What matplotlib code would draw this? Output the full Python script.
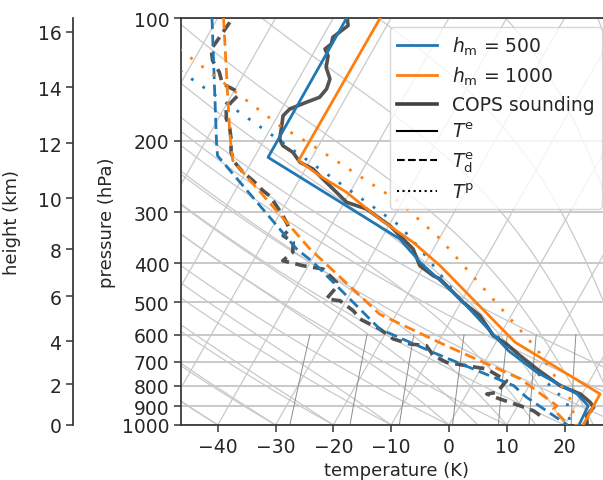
import numpy as np
import matplotlib.pyplot as plt
from matplotlib.lines import Line2D

# ---- profiles (pressure in hPa, temperature in deg C) ----
# mixed-layer model, h_m = 500
p_te_500 = [100, 220, 349, 398, 495, 657, 742, 839, 897, 1000]
te_500 = [-57.7, -57.6, -26.8, -21.0, -10.0, 3.0, 10.0, 19.1, 22.2, 22.5]
p_td_500 = [100, 202, 218, 369, 398, 581, 663, 800, 855, 1000]
td_500 = [-81.0, -68.0, -66.5, -43.7, -39.5, -21.4, -9.9, 7.3, 10.7, 20.5]
p_tp_500 = [134.7, 194.6, 323.9, 369.4, 490, 638.5, 742.5, 879.5, 1000]
tp_500 = [-81.4, -58.9, -28.1, -22.3, -10.5, 2.2, 10.0, 18.2, 21.0]

# mixed-layer model, h_m = 1000
p_te_1000 = [100, 224, 244, 268, 312, 356, 406, 626, 839, 1000]
te_1000 = [-51.9, -52.0, -46.9, -40.6, -32.2, -24.1, -17.2, 3.3, 23.1, 23.2]
p_td_1000 = [100, 191, 224, 369, 534, 639, 770, 897, 914, 1000]
td_1000 = [-79.0, -66.7, -63.4, -41.4, -22.9, -8.2, 7.8, 16.8, 16.5, 20.7]
p_tp_1000 = [119.2, 183.9, 205.9, 283.6, 349, 650, 863, 1000]
tp_1000 = [-83.6, -58.7, -51.0, -30.4, -19.8, 7.7, 18.4, 22.0]

# COPS radiosonde
p_cops_t = [100, 104.4, 111.5, 115.8, 119.2, 123.8, 132.2, 141.2, 149.4, 156.6,
            161.1, 167.3, 173.8, 187.4, 198.3, 205.9, 213.8, 226.2, 234.9, 244.0,
            283.6, 294.6, 323.9, 369.4, 406.1, 429.7, 437.7, 499.6, 538.7, 603.3,
            632.4, 675.6, 728.4, 800.9, 839.3, 879.5, 904.8, 948.7, 994.4]
cops_t = [-57.6, -56.7, -58.2, -57.8, -58.4, -57.2, -56.4, -54.6, -54.2, -54.6,
          -56.4, -58.6, -59.1, -58.1, -57.4, -56.2, -53.8, -51.6, -48.7, -46.9,
          -39.6, -35.5, -29.8, -23.5, -20.7, -17.4, -15.9, -9.6, -5.4, -1.1,
          2.0, 5.5, 9.7, 15.4, 19.7, 22.2, 23.3, 22.9, 23.8]
p_cops_td = [102.5, 108.4, 114.7, 119.2, 127.3, 135.9, 142.5, 146.6, 150.9, 155.2,
             161.1, 167.3, 177.0, 183.9, 198.3, 213.8, 226.2, 239.3, 251.0, 265.6,
             273.3, 289.2, 306.0, 330.0, 342.7, 355.7, 376.4, 394.8, 406.1, 413.8,
             446.0, 463.2, 490.2, 494.9, 523.7, 549.0, 580.8, 614.6, 632.4, 638.5,
             675.6, 701.3, 715.0, 728.4, 778.2, 831.4, 839.3, 863.5, 896.9, 922.4,
             948.7, 975.9]
cops_td = [-77.5, -77.7, -77.9, -78.1, -76.7, -74.4, -73.2, -71.9, -69.7, -68.9,
           -69.4, -69.6, -68.6, -67.4, -65.8, -64.5, -62.9, -60.5, -57.9, -55.2,
           -53.6, -51.4, -49.3, -46.8, -47.3, -44.9, -44.0, -44.9, -40.9, -37.1,
           -33.5, -33.1, -33.6, -31.1, -27.8, -25.8, -21.4, -18.1, -14.7, -11.7,
           -9.5, -6.6, -2.8, 1.0, 5.6, 5.1, 3.5, 6.3, 10.4, 13.2,
           14.9, 15.9]

# height axis labels and the pressure levels they sit at
height_km = [0, 2, 4, 6, 8, 10, 12, 14, 16]
height_p = [1000, 793, 623, 483, 370, 277, 203, 148, 108]

p_ticks = [100, 200, 300, 400, 500, 600, 700, 800, 900, 1000]
t_ticks = [-40, -30, -20, -10, 0, 10, 20]

SKEW = 40.0  # K per decade of pressure


def skew_x(t, p):
    return np.asarray(t) + SKEW * np.log10(1000.0 / np.asarray(p, dtype=float))


def sat_mixing_ratio(tk, p):
    es = 6.112 * np.exp(17.67 * (tk - 273.15) / (tk - 29.65))
    return 0.622 * es / (p - es)


def moist_adiabat(t0, pres):
    Rd, cp, Lv, eps = 287.04, 1005.7, 2.501e6, 0.622

    def dtdp(tk, p):
        rs = sat_mixing_ratio(tk, p)
        return (Rd * tk + Lv * rs) / (cp + Lv * Lv * rs * eps / (Rd * tk * tk)) / p

    tk = t0 + 273.15
    out = [tk]
    for i in range(len(pres) - 1):
        p, h = pres[i], pres[i + 1] - pres[i]
        k1 = dtdp(tk, p)
        k2 = dtdp(tk + h / 2 * k1, p + h / 2)
        k3 = dtdp(tk + h / 2 * k2, p + h / 2)
        k4 = dtdp(tk + h * k3, p + h)
        tk = tk + h / 6 * (k1 + 2 * k2 + 2 * k3 + k4)
        out.append(tk)
    return np.array(out) - 273.15


def dewpoint_from_mr(w, p):
    e = p * w / (0.622 + w)
    a = np.log(e / 6.112)
    return 243.5 * a / (17.67 - a)


plt.rcParams['font.family'] = 'DejaVu Sans'
plt.rcParams['font.size'] = 13
plt.rcParams['text.color'] = '#262626'
plt.rcParams['axes.labelcolor'] = '#262626'
plt.rcParams['xtick.color'] = '#262626'
plt.rcParams['ytick.color'] = '#262626'
plt.rcParams['xtick.labelsize'] = 13.5
plt.rcParams['ytick.labelsize'] = 13.5

fig = plt.figure(figsize=(6.03, 4.81), dpi=100)
ax = fig.add_axes([181 / 603, 55 / 481, 430 / 603, 407 / 481])
ax.set_yscale('log')

grid_c = '#c9c9c9'
pp = np.linspace(1000, 100, 451)

# isobars
for p in p_ticks:
    ax.axhline(p, color=grid_c, lw=1.4, zorder=1)

# isotherms
for t in np.arange(-120, 50, 10):
    ax.plot(skew_x(np.full(2, t), [1000, 100]), [1000, 100], color=grid_c, lw=0.9, zorder=1)

# dry adiabats
for t0 in np.arange(-50, 51, 10):
    tk = (t0 + 273.15) * (pp / 1000.0) ** 0.2857 - 273.15
    ax.plot(skew_x(tk, pp), pp, color=grid_c, lw=0.9, zorder=1)

# moist adiabats
for t0 in np.concatenate((np.arange(-40, 0, 10), np.arange(0, 51, 5))):
    tm = moist_adiabat(float(t0), pp)
    ax.plot(skew_x(tm, pp), pp, color=grid_c, lw=0.9, zorder=1)

# mixing ratio lines
pm = np.linspace(1000, 600, 50)
for w in [0.0004, 0.001, 0.002, 0.004, 0.007, 0.01, 0.016, 0.024, 0.032]:
    ax.plot(skew_x(dewpoint_from_mr(w, pm), pm), pm, color='#8c8c8c', lw=0.7, zorder=1)

blue, orange = '#1f77b4', '#ff7f0e'
sound_c = '#404040'

ax.plot(skew_x(cops_t, p_cops_t), p_cops_t, color=sound_c, lw=2.6, alpha=0.9, zorder=3)
ax.plot(skew_x(cops_td, p_cops_td), p_cops_td, color=sound_c, lw=2.6, alpha=0.9,
        ls=(0, (3.2, 1.8)), zorder=3)

for c, pte, te, ptd, td, ptp, tp in [
        (blue, p_te_500, te_500, p_td_500, td_500, p_tp_500, tp_500),
        (orange, p_te_1000, te_1000, p_td_1000, td_1000, p_tp_1000, tp_1000)]:
    ax.plot(skew_x(te, pte), pte, color=c, lw=2.0, zorder=4)
    ax.plot(skew_x(td, ptd), ptd, color=c, lw=2.0, ls=(0, (4, 2)), zorder=4)
    ax.plot(skew_x(tp, ptp), ptp, color=c, lw=2.0, ls=(0, (1, 4)), zorder=4)

ax.set_ylim(1000, 100)
ax.set_xlim(-46.36, -46.36 + 430 / 5.78)
ax.set_yticks(p_ticks)
ax.set_yticklabels([str(p) for p in p_ticks])
ax.yaxis.set_minor_locator(plt.NullLocator())
ax.set_xticks(t_ticks)
ax.set_xticklabels(['\u2212%d' % -t if t < 0 else str(t) for t in t_ticks])
ax.set_xlabel('temperature (K)')
ax.set_ylabel('pressure (hPa)')

for s in ax.spines.values():
    s.set_color('#333333')
    s.set_linewidth(1.25)
ax.tick_params(length=4.8, width=1.1, color='#333333')

# height axis on the far left
axh = ax.twinx()
axh.set_yscale('log')
axh.set_ylim(1000, 100)
axh.set_yticks(height_p)
axh.set_yticklabels([str(h) for h in height_km])
axh.yaxis.set_minor_locator(plt.NullLocator())
axh.yaxis.tick_left()
axh.yaxis.set_label_position('left')
for side in ['right', 'top', 'bottom']:
    axh.spines[side].set_visible(False)
axh.spines['left'].set_position(('outward', 108 * 0.72))
axh.spines['left'].set_color('#333333')
axh.spines['left'].set_linewidth(1.25)
axh.tick_params(length=4.8, width=1.1, color='#333333')
axh.set_ylabel('height (km)', labelpad=12)

handles = [
    Line2D([], [], color=blue, lw=2.0),
    Line2D([], [], color=orange, lw=2.0),
    Line2D([], [], color=sound_c, lw=2.6),
    Line2D([], [], color='k', lw=1.5),
    Line2D([], [], color='k', lw=1.5, ls='--'),
    Line2D([], [], color='k', lw=1.5, ls=':'),
]
labels = [r'$h_\mathrm{m}$ = 500', r'$h_\mathrm{m}$ = 1000', 'COPS sounding',
          r'$T^\mathrm{e}$', r'$T^\mathrm{e}_\mathrm{d}$', r'$T^\mathrm{p}$']
ax.legend(handles, labels, loc='upper right', fontsize=13.5, handlelength=2.1,
          labelspacing=0.42, borderpad=0.4)

fig.savefig('out.png', dpi=100)
